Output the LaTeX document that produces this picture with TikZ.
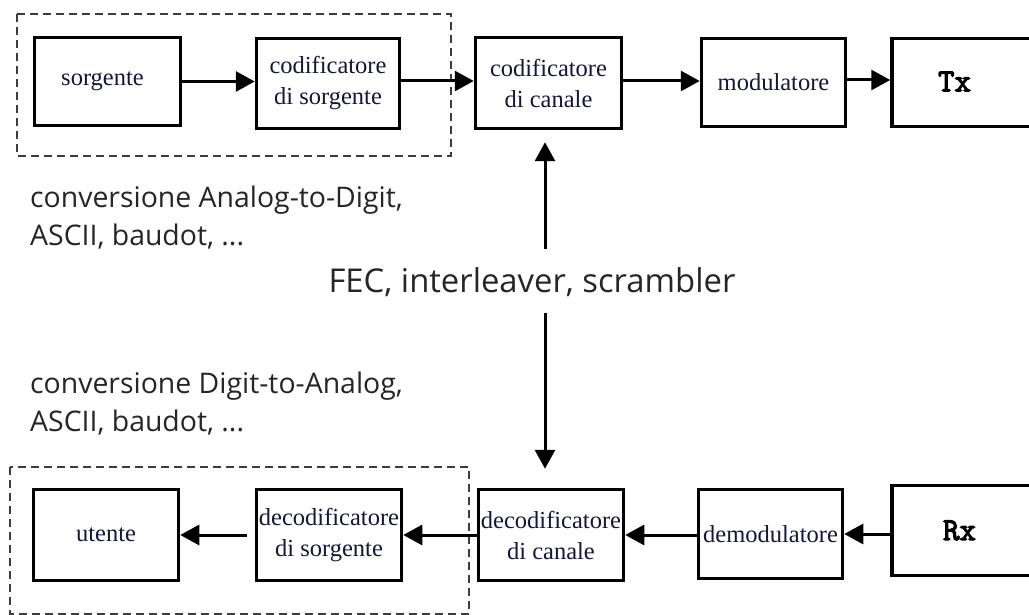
\documentclass[tikz,border=0pt]{standalone}
\usepackage{fontspec}
\setmainfont{Liberation Serif}
\newfontfamily\labfont{Open Sans}
\newfontfamily\courbold[FakeBold=3.5]{Latin Modern Mono}
\usetikzlibrary{arrows.meta}
\definecolor{boxtext}{RGB}{22,22,60}
\definecolor{labtext}{RGB}{38,38,38}
\definecolor{dashcol}{RGB}{60,60,60}
\tikzset{
  blk/.style={draw=black, line width=3.5pt, inner sep=0pt, align=center,
    text=boxtext, font=\fontsize{24.5}{31}\selectfont},
  arr/.style={line width=3pt, -{Triangle[length=19pt,width=20pt]}},
  grp/.style={draw=dashcol, line width=1.5pt, dash pattern=on 8pt off 5pt},
  lab/.style={inner sep=0pt, text=labtext, font=\labfont\fontsize{28.4}{38}\selectfont}
}
\newcommand{\iotext}[1]{{\courbold\fontsize{32}{32}\selectfont\color{black}#1}}
\begin{document}
\begin{tikzpicture}[x=1pt,y=-1pt]
\clip (0,0) rectangle (1029,615);
\fill[white] (0,0) rectangle (1029,615);
% groups
\draw[grp] (17,14) rectangle (451,156);
\draw[grp] (10,467) rectangle (469,614);
% top row
\node[blk, minimum width=146pt, minimum height=88pt] (src) at (107.5,81.5) {\hspace*{-10pt}sorgente};
\node[blk, minimum width=143pt, minimum height=90pt] (cs) at (328,83.5) {codificatore\\di sorgente};
\node[blk, minimum width=146pt, minimum height=91pt] (cc) at (548.5,83) {codificatore\\di canale};
\node[blk, minimum width=144pt, minimum height=88pt] (mod) at (773.5,82.5) {\raisebox{-4pt}{modulatore}};
\node[blk, minimum width=160pt, minimum height=88pt, text width=130pt, align=left] (tx) at (972,82.5) {\hspace*{31pt}\raisebox{2pt}{\iotext{Tx}}};
% bottom row
\node[blk, minimum width=145pt, minimum height=91pt] (ut) at (106,535) {utente};
\node[blk, minimum width=145pt, minimum height=91pt] (ds) at (329,535) {decodificatore\\di sorgente};
\node[blk, minimum width=145pt, minimum height=91pt] (dc) at (551,535) {decodificatore\\di canale};
\node[blk, minimum width=144pt, minimum height=89pt] (dm) at (770.5,534) {\raisebox{-6pt}{demodulatore}};
\node[blk, minimum width=160pt, minimum height=90pt, text width=130pt, align=left] (rx) at (972,530.5) {\hspace*{36pt}\iotext{Rx}};
% labels
\node[lab, anchor=west, align=left] (l1) at (30,218) {conversione Analog-to-Digit,\\ASCII, baudot, ...};
\node[lab, anchor=west, align=left] (l2) at (30,404) {conversione Digit-to-Analog,\\ASCII, baudot, ...};
\node[lab, font=\labfont\fontsize{32.8}{36}\selectfont] (fec) at (532,282) {FEC, interleaver, scrambler};
% horizontal connectors
\draw[arr] (src.east) -- (src.east -| cs.west);
\draw[arr] (cs.east |- 0,81) -- (cc.west |- 0,81);
\draw[arr] (cc.east |- 0,81) -- (mod.west |- 0,81);
\draw[arr] (mod.east |- 0,80) -- (tx.west |- 0,80);
\draw[arr] (rx.west |- dm.east) -- (dm.east);
\draw[arr] (dm.west |- 0,535) -- (dc.east |- 0,535);
\draw[arr] (dc.west |- 0,535) -- (ds.east |- 0,535);
\draw[arr, shorten <=8pt] (ds.west |- 0,535) -- (ut.east |- 0,535);
% vertical connectors
\coordinate (fecT) at (545,249);
\coordinate (fecB) at (545,313);
\draw[arr, shorten >=12pt] (fecT) -- (fecT |- cc.south);
\draw[arr, shorten >=19pt] (fecB) -- (fecB |- dc.north);
\end{tikzpicture}
\end{document}
